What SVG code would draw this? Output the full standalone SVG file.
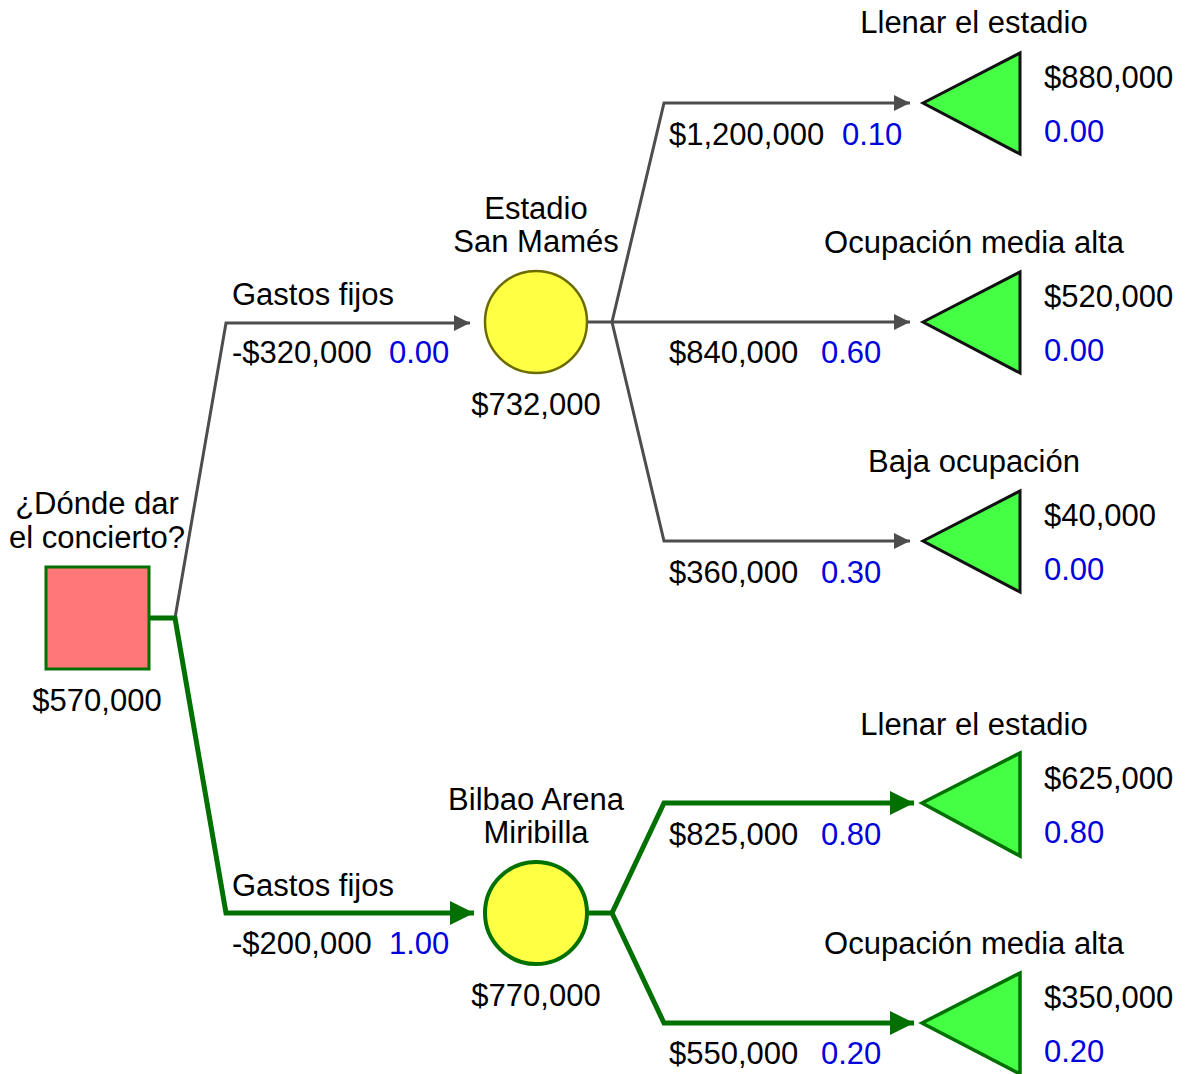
<svg xmlns="http://www.w3.org/2000/svg" width="1185" height="1074" viewBox="0 0 1185 1074">
<style>
text{font-family:"Liberation Sans",Arial,sans-serif;font-size:31px;fill:#000}
.c{text-anchor:middle}
.p{fill:#0000dd}
.g{fill:none;stroke:#4d4d4d;stroke-width:3;stroke-linejoin:miter}
.o{fill:none;stroke:#007000;stroke-width:5;stroke-linejoin:miter}
.term{fill:#44ff44;stroke:#111;stroke-width:3}
.termo{fill:#44ff44;stroke:#007000;stroke-width:3.5}
</style>
<defs>
<marker id="ag" markerUnits="userSpaceOnUse" markerWidth="20" markerHeight="20" viewBox="0 0 20 20" refX="18" refY="10" orient="auto">
<path d="M2,2 L18,10 L2,18 Z" fill="#4d4d4d"/>
</marker>
<marker id="ao" markerUnits="userSpaceOnUse" markerWidth="28" markerHeight="28" viewBox="0 0 28 28" refX="26" refY="14" orient="auto">
<path d="M2,2 L26,14 L2,26 Z" fill="#007000"/>
</marker>
</defs>
<rect width="1185" height="1074" fill="#fff"/>
<g id="connectors">
<path class="g" d="M175,618 L226,323 L470,323" marker-end="url(#ag)"/>
<path class="o" d="M150,618 L175,618 L226,913 L474,913" marker-end="url(#ao)"/>
<path class="g" d="M588,322 L612,322"/>
<path class="g" d="M612,322 L664,103 L910,103" marker-end="url(#ag)"/>
<path class="g" d="M612,322 L910,322" marker-end="url(#ag)"/>
<path class="g" d="M612,322 L664,541 L910,541" marker-end="url(#ag)"/>
<path class="o" d="M588,913 L612,913"/>
<path class="o" d="M612,913 L664,803 L914,803" marker-end="url(#ao)"/>
<path class="o" d="M612,913 L664,1023 L914,1023" marker-end="url(#ao)"/>
</g>
<g id="labels-edges">
<text x="232" y="305">Gastos fijos</text>
<text x="232" y="363">-$320,000</text><text class="p" x="389" y="363">0.00</text>
<text x="232" y="896">Gastos fijos</text>
<text x="232" y="954">-$200,000</text><text class="p" x="389" y="954">1.00</text>
<text x="669" y="145">$1,200,000</text><text class="p" x="842" y="145">0.10</text>
<text x="669" y="363">$840,000</text><text class="p" x="821" y="363">0.60</text>
<text x="669" y="583">$360,000</text><text class="p" x="821" y="583">0.30</text>
<text x="669" y="845">$825,000</text><text class="p" x="821" y="845">0.80</text>
<text x="669" y="1064">$550,000</text><text class="p" x="821" y="1064">0.20</text>
</g>
<g id="decision">
<rect x="46" y="567" width="103" height="102" fill="#ff7777" stroke="#007000" stroke-width="3"/>
<text class="c" x="97" y="514">¿Dónde dar</text>
<text class="c" x="97" y="548">el concierto?</text>
<text class="c" x="97" y="711">$570,000</text>
</g>
<g id="chance-sanmames">
<circle cx="536" cy="322" r="51" fill="#ffff44" stroke="#6b6b00" stroke-width="2.5"/>
<text class="c" x="536" y="219">Estadio</text>
<text class="c" x="536" y="252">San Mamés</text>
<text class="c" x="536" y="415">$732,000</text>
</g>
<g id="chance-bilbao">
<circle cx="536" cy="913" r="51" fill="#ffff44" stroke="#007000" stroke-width="4"/>
<text class="c" x="536" y="810">Bilbao Arena</text>
<text class="c" x="536" y="843">Miribilla</text>
<text class="c" x="536" y="1006">$770,000</text>
</g>
<g id="end-sm-llenar">
<polygon class="term" points="923,103 1020,53 1020,154"/>
<text class="c" x="974" y="33">Llenar el estadio</text>
<text x="1044" y="88">$880,000</text>
<text class="p" x="1044" y="142">0.00</text>
</g>
<g id="end-sm-media">
<polygon class="term" points="923,322 1020,272 1020,373"/>
<text class="c" x="974" y="253">Ocupación media alta</text>
<text x="1044" y="307">$520,000</text>
<text class="p" x="1044" y="361">0.00</text>
</g>
<g id="end-sm-baja">
<polygon class="term" points="923,541 1020,491 1020,592"/>
<text class="c" x="974" y="472">Baja ocupación</text>
<text x="1044" y="526">$40,000</text>
<text class="p" x="1044" y="580">0.00</text>
</g>
<g id="end-bb-llenar">
<polygon class="termo" points="922,803 1020,753 1020,856"/>
<text class="c" x="974" y="735">Llenar el estadio</text>
<text x="1044" y="789">$625,000</text>
<text class="p" x="1044" y="843">0.80</text>
</g>
<g id="end-bb-media">
<polygon class="termo" points="922,1023 1020,973 1020,1074"/>
<text class="c" x="974" y="954">Ocupación media alta</text>
<text x="1044" y="1008">$350,000</text>
<text class="p" x="1044" y="1062">0.20</text>
</g>
</svg>
